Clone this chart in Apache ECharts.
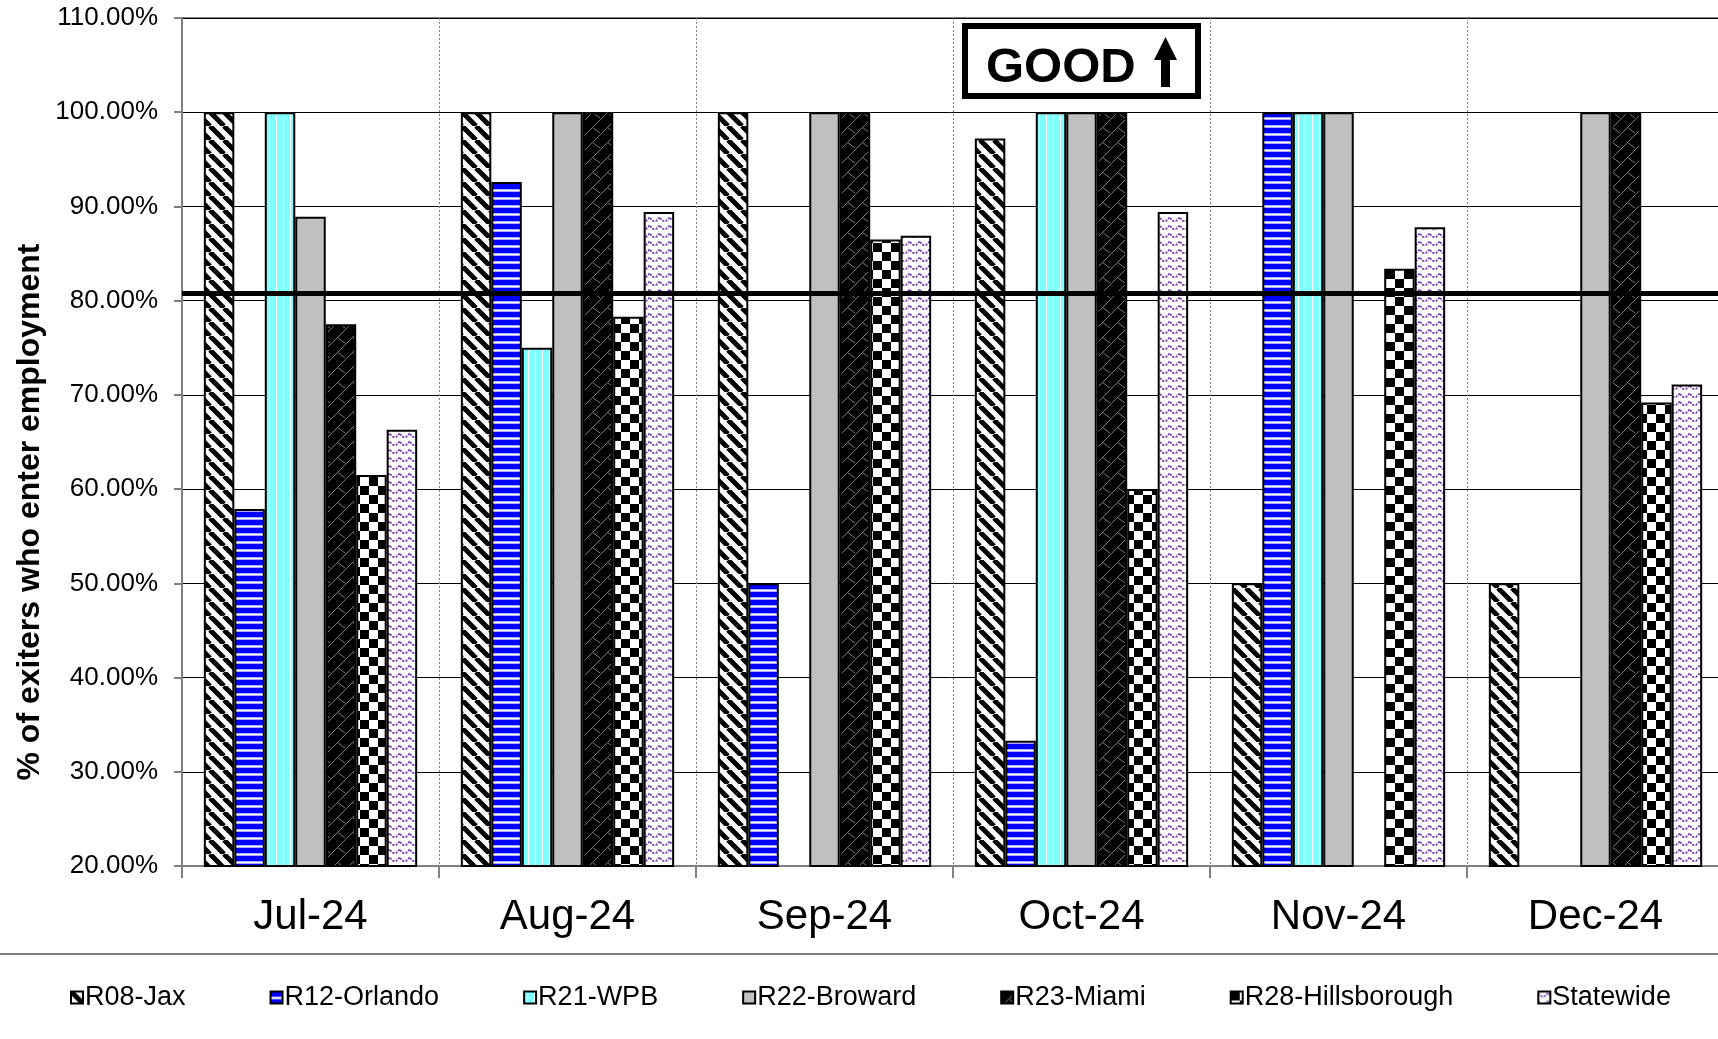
<!DOCTYPE html>
<html>
<head>
<meta charset="utf-8">
<script src="https://cdn.jsdelivr.net/npm/echarts@6/dist/echarts.min.js"></script>
<style>
  html, body { margin: 0; padding: 0; background: #fff; }
  #chart { width: 1718px; height: 1039px; }
</style>
</head>
<body>
<div id="chart"></div>
<script>
// months on the x axis
const categories = ['Jul-24', 'Aug-24', 'Sep-24', 'Oct-24', 'Nov-24', 'Dec-24']

// % of exiters who enter employment
const r08Jax = [100, 100, 100, 97.2, 50, 50]
const r12Orlando = [57.9, 92.6, 50, 33.3, 100, 0]
const r21Wpb = [100, 75, 0, 100, 100, 0]
const r22Broward = [88.9, 100, 100, 100, 100, 100]
const r23Miami = [77.5, 100, 100, 100, 0, 100]
const r28Hillsborough = [61.5, 78.3, 86.5, 60, 83.4, 69.2]
const statewide = [66.3, 89.4, 86.9, 89.4, 87.8, 71.1]

// goal line
const goalValue = 80.8

const FONT = '"Liberation Sans", Arial, sans-serif'

// small canvas tiles used as bar fills (excel style patterns)
function makeTile(w, h, draw) {
  const c = document.createElement('canvas')
  c.width = w
  c.height = h
  const ctx = c.getContext('2d')
  draw(ctx, w, h)
  return { image: c, repeat: 'repeat' }
}

const jaxFill = makeTile(14, 14, (ctx, w, h) => {
  ctx.fillStyle = '#fff'
  ctx.fillRect(0, 0, w, h)
  ctx.strokeStyle = '#000'
  ctx.lineWidth = 5
  for (const k of [-14, 0, 14]) {
    ctx.beginPath()
    ctx.moveTo(k, 0)
    ctx.lineTo(k + 14, 14)
    ctx.stroke()
  }
})

const orlandoFill = makeTile(4, 8, (ctx, w, h) => {
  ctx.fillStyle = '#0000ff'
  ctx.fillRect(0, 0, w, 5)
  ctx.fillStyle = '#a8a8ff'
  ctx.fillRect(0, 5, w, 1)
  ctx.fillStyle = '#ffffff'
  ctx.fillRect(0, 6, w, 1)
  ctx.fillStyle = '#a8a8ff'
  ctx.fillRect(0, 7, w, 1)
})

const wpbFill = makeTile(7, 4, (ctx, w, h) => {
  ctx.fillStyle = '#80ffff'
  ctx.fillRect(0, 0, w, h)
  ctx.fillStyle = '#ffffff'
  ctx.fillRect(3, 0, 1, h)
})

// black with a sparse grey shingle
const miamiFill = makeTile(15, 15, (ctx, w, h) => {
  ctx.fillStyle = '#000'
  ctx.fillRect(0, 0, w, h)
  ctx.strokeStyle = '#7a7a7a'
  ctx.lineWidth = 1
  ctx.beginPath()
  ctx.moveTo(0, 15)
  ctx.lineTo(15, 0)
  ctx.moveTo(7.5, 7.5)
  ctx.lineTo(15, 13)
  ctx.stroke()
})

const hillsFill = makeTile(18, 18, (ctx, w, h) => {
  ctx.fillStyle = '#fff'
  ctx.fillRect(0, 0, w, h)
  ctx.fillStyle = '#000'
  ctx.fillRect(0, 0, 9, 9)
  ctx.fillRect(9, 9, 9, 9)
})

const stateFill = makeTile(10, 8, (ctx, w, h) => {
  ctx.fillStyle = '#fff'
  ctx.fillRect(0, 0, w, h)
  ctx.strokeStyle = '#6a2aa0'
  ctx.lineWidth = 1.6
  ctx.setLineDash([2.2, 1.2])
  ctx.beginPath()
  ctx.moveTo(0, 2)
  ctx.lineTo(3, 5)
  ctx.lineTo(6, 5)
  ctx.lineTo(9, 2)
  ctx.lineTo(10, 2)
  ctx.stroke()
})

const seriesList = [
  { name: 'R08-Jax', data: r08Jax, fill: jaxFill },
  { name: 'R12-Orlando', data: r12Orlando, fill: orlandoFill },
  { name: 'R21-WPB', data: r21Wpb, fill: wpbFill },
  { name: 'R22-Broward', data: r22Broward, fill: '#c0c0c0' },
  { name: 'R23-Miami', data: r23Miami, fill: miamiFill },
  { name: 'R28-Hillsborough', data: r28Hillsborough, fill: hillsFill },
  { name: 'Statewide', data: statewide, fill: stateFill },
]

const chart = echarts.init(document.getElementById('chart'), null, { renderer: 'canvas' })

const option = {
  backgroundColor: '#fff',
  animation: false,
  textStyle: { fontFamily: FONT },
  grid: {
    left: 182,
    right: -6,
    top: 18,
    bottom: 173,
    outerBoundsMode: 'none',
    show: true,
    borderColor: '#808080',
    borderWidth: 2,
    backgroundColor: 'transparent',
  },
  legend: {
    left: 70,
    top: 984,
    padding: 0,
    itemGap: 84,
    itemWidth: 12,
    itemHeight: 12,
    icon: 'rect',
    textStyle: { fontSize: 27, color: '#000', fontFamily: FONT, padding: [0, 0, 0, -3] },
    data: seriesList.map((s) => s.name),
  },
  xAxis: {
    type: 'category',
    data: categories,
    boundaryGap: true,
    axisLine: { show: true, lineStyle: { color: '#808080', width: 2 } },
    axisTick: { show: true, length: 12, lineStyle: { color: '#808080', width: 2 } },
    axisLabel: { fontSize: 42, color: '#000', margin: 30, fontFamily: FONT },
    splitLine: {
      show: true,
      interval: 0,
      lineStyle: { color: '#808080', width: 1, type: [2, 2] },
    },
  },
  yAxis: {
    type: 'value',
    min: 20,
    max: 110,
    interval: 10,
    axisLine: { show: true, lineStyle: { color: '#808080', width: 2 } },
    axisTick: { show: true, length: 8, lineStyle: { color: '#808080', width: 2 } },
    axisLabel: {
      fontSize: 26,
      color: '#000',
      margin: 24,
      fontFamily: FONT,
      formatter: (v) => v.toFixed(2) + '%',
    },
    splitLine: { show: true, lineStyle: { color: '#000', width: 1 } },
  },
  series: seriesList.map((s, i) => ({
    name: s.name,
    type: 'bar',
    data: s.data,
    barGap: '0%',
    barCategoryGap: '17%',
    clip: true,
    itemStyle: { color: s.fill, borderColor: '#000', borderWidth: 2 },
    emphasis: { disabled: true },
    markLine: i === 0 ? {
      silent: true,
      symbol: 'none',
      label: { show: false },
      lineStyle: { color: '#000', width: 5, type: 'solid' },
      data: [{ yAxis: goalValue }],
      z: 10,
    } : undefined,
  })),
  graphic: [
    {
      type: 'line',
      shape: { x1: 0, y1: 954, x2: 1718, y2: 954 },
      style: { stroke: '#808080', lineWidth: 2 },
    },
    {
      type: 'text',
      x: 30,
      y: 512,
      rotation: Math.PI / 2,
      style: {
        text: '% of exiters who enter employment',
        font: 'bold 32px ' + FONT,
        fill: '#000',
        align: 'center',
        verticalAlign: 'middle',
      },
    },
    {
      type: 'group',
      z: 20,
      children: [
        {
          type: 'rect',
          shape: { x: 965, y: 26, width: 233, height: 70 },
          style: { fill: '#fff', stroke: '#000', lineWidth: 6 },
        },
        {
          type: 'text',
          x: 986,
          y: 68,
          style: {
            text: 'GOOD',
            font: 'bold 49px ' + FONT,
            fill: '#000',
            align: 'left',
            verticalAlign: 'middle',
          },
        },
        {
          type: 'rect',
          shape: { x: 1161, y: 56, width: 9, height: 31 },
          style: { fill: '#000' },
        },
        {
          type: 'polygon',
          shape: { points: [[1165.5, 37], [1177, 60], [1154, 60]] },
          style: { fill: '#000' },
        },
      ],
    },
  ],
}

chart.setOption(option)
</script>
</body>
</html>
